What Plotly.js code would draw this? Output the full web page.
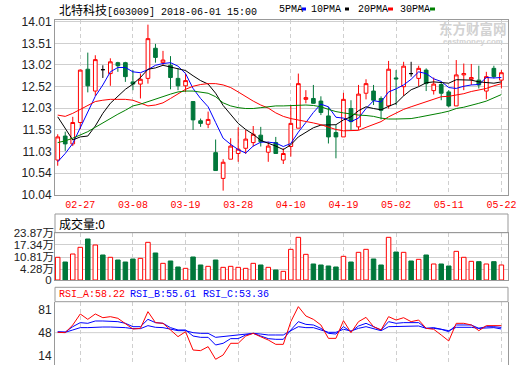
<!DOCTYPE html>
<html><head><meta charset="utf-8">
<script src="https://cdn.plot.ly/plotly-3.0.1.min.js"></script>
<style>html,body{margin:0;padding:0;background:#fff;overflow:hidden}#chart{width:520px;height:365px}</style>
</head><body><div id="chart"></div>
<script>
const dates = ['02-22','02-23','02-26','02-27','02-28',
 '03-01','03-02','03-05','03-06','03-07','03-08','03-09','03-12','03-13','03-14','03-15','03-16','03-19','03-20','03-21','03-22','03-23','03-26','03-27','03-28','03-29','03-30',
 '04-02','04-03','04-04','04-09','04-10','04-11','04-12','04-13','04-16','04-17','04-18','04-19','04-20','04-23','04-24','04-25','04-26','04-27',
 '05-02','05-03','05-04','05-07','05-08','05-09','05-10','05-11','05-14','05-15','05-16','05-17','05-18','05-21','05-22'];
const openP = [10.84,11.39,11.21,11.70,12.92,12.42,12.91,12.82,13.07,13.07,
 12.63,12.58,12.71,13.40,13.07,13.01,12.71,12.54,12.18,11.74,
 11.66,11.01,10.42,10.86,10.99,11.11,11.24,11.41,11.02,11.24,
 10.84,11.15,11.57,12.23,12.25,12.19,11.85,11.47,11.37,12.02,
 11.60,12.37,12.42,12.25,12.08,12.72,12.52,12.82,12.71,12.90,
 12.43,12.57,12.40,12.08,12.79,12.69,12.67,12.42,12.94,12.67];
const highP = [11.43,11.49,11.83,12.91,13.30,13.24,13.01,13.17,13.09,13.09,
 12.90,12.82,13.94,13.50,13.34,13.22,12.94,12.82,12.18,11.79,
 11.95,11.31,10.86,11.34,11.59,11.53,11.62,11.60,11.26,11.37,
 11.11,12.10,12.82,12.44,12.56,12.30,12.06,11.64,12.38,12.21,
 12.56,12.69,12.56,12.30,13.11,12.90,13.09,13.09,13.00,12.94,
 12.73,12.63,12.44,13.13,13.05,13.04,13.00,12.86,13.00,12.90];
const lowP = [10.71,11.05,11.16,11.55,12.39,12.31,12.72,12.54,12.86,12.63,
 12.44,12.25,12.59,13.07,13.01,12.46,12.44,12.40,11.53,11.60,
 11.57,10.60,10.14,10.86,10.80,10.98,11.15,11.15,10.80,10.99,
 10.75,10.92,11.57,12.14,12.13,11.87,11.22,10.88,11.37,11.53,
 11.53,12.23,12.10,11.77,12.02,12.10,12.31,12.75,12.53,12.42,
 12.34,12.21,12.05,12.08,12.44,12.56,12.48,12.23,12.71,12.48];
const closeP = [11.37,11.21,11.70,12.90,12.54,13.14,12.91,13.09,13.00,12.75,
 12.58,12.69,13.62,13.19,13.13,12.73,12.54,12.66,11.76,11.68,
 11.77,10.60,10.79,11.16,11.09,11.32,11.43,11.26,11.16,10.99,
 10.99,11.68,12.59,12.27,12.14,11.93,11.37,11.37,12.23,11.72,
 12.35,12.59,12.21,11.98,12.92,12.70,12.99,12.82,12.94,12.59,
 12.58,12.37,12.08,12.79,12.82,12.73,12.56,12.75,12.75,12.84];
const volume = [11.45,9.08,13.12,16.49,20.69,17.66,12.62,11.45,10.09,9.08,
 10.6,10.93,19.01,13.63,8.41,9.59,6.56,5.89,11.61,7.57,
 6.9,10.09,6.39,6.9,6.39,5.89,8.41,7.57,6.39,5.05,
 4.37,15.48,21.53,12.95,8.08,7.57,7.07,6.56,11.94,9.08,
 13.96,15.48,10.6,7.57,21.53,14.13,13.96,9.59,10.43,12.62,
 8.08,8.08,7.07,14.47,11.45,9.42,9.25,8.08,9.25,7.57];
const ma5 = [10.80,10.99,11.22,11.60,11.94,12.30,12.56,12.86,12.96,12.96,
 12.86,12.84,12.91,13.01,13.05,13.07,12.99,12.82,12.48,12.25,
 12.06,11.70,11.34,11.20,11.08,11.00,11.16,11.25,11.25,11.23,
 11.15,11.22,11.48,11.70,11.93,12.12,12.06,11.82,11.80,11.72,
 11.80,12.02,12.20,12.17,12.40,12.47,12.56,12.69,12.86,12.82,
 12.70,12.64,12.50,12.48,12.53,12.56,12.57,12.73,12.72,12.73];
const ma10 = [11.83,11.56,11.30,11.37,11.39,11.62,11.91,12.14,12.30,12.46,
 12.58,12.73,12.92,12.95,13.01,12.97,12.93,12.89,12.77,12.66,
 12.58,12.37,12.09,11.88,11.68,11.54,11.43,11.29,11.23,11.16,
 11.08,11.19,11.37,11.48,11.58,11.64,11.64,11.65,11.76,11.83,
 11.97,12.06,12.02,11.99,12.07,12.14,12.31,12.45,12.52,12.61,
 12.63,12.61,12.60,12.68,12.67,12.67,12.63,12.62,12.60,12.63];
const ma20 = [11.87,11.84,11.91,12.00,12.08,12.18,12.21,12.23,12.23,12.23,
 12.21,12.14,12.08,12.10,12.15,12.25,12.35,12.46,12.53,12.57,
 12.59,12.59,12.56,12.50,12.40,12.29,12.19,12.10,12.03,11.92,
 11.84,11.79,11.76,11.72,11.69,11.65,11.60,11.54,11.51,11.51,
 11.52,11.59,11.65,11.72,11.83,11.91,12.00,12.06,12.12,12.18,
 12.24,12.29,12.30,12.33,12.36,12.41,12.44,12.48,12.54,12.59];
const ma30 = [11.24,11.28,11.34,11.41,11.49,11.59,11.69,11.80,11.89,11.98,
 12.08,12.12,12.18,12.24,12.29,12.35,12.40,12.42,12.42,12.40,
 12.37,12.29,12.15,12.08,12.04,12.02,12.02,12.04,12.06,12.08,
 12.08,12.09,12.10,12.10,12.09,12.06,12.00,11.95,11.92,11.89,
 11.87,11.86,11.84,11.80,11.78,11.78,11.79,11.79,11.82,11.85,
 11.88,11.92,11.96,12.02,12.05,12.09,12.14,12.19,12.26,12.34];
const rsiA = [48.5,48.0,59.2,75.2,67.4,75.2,69.8,71.3,68.9,60.6,
 53.3,54.3,78.6,62.6,61.6,51.9,42.2,49.4,22.7,21.8,
 27.6,9.2,15.5,32.5,32.5,43.1,47.0,42.0,37.3,31.0,
 31.0,64.0,85.9,72.3,67.4,59.2,39.7,39.7,65.5,48.0,
 64.0,70.3,56.7,51.9,71.3,66.4,69.8,64.0,66.4,54.3,
 52.9,44.6,35.9,61.6,61.6,59.2,50.9,58.2,58.2,58.22];
const rsiB = [49.4,48.9,56.7,62.6,61.6,65.0,65.0,64.5,64.0,61.6,
 56.7,56.7,67.4,62.6,61.6,55.3,51.9,51.9,43.1,41.2,
 41.2,30.0,32.5,39.3,39.3,44.6,47.0,43.1,39.3,38.3,
 38.3,51.9,64.0,60.1,59.2,54.3,47.0,46.0,56.7,49.4,
 57.7,61.6,56.7,51.9,64.0,61.6,62.6,62.6,62.6,54.3,
 55.3,52.9,49.4,59.2,59.2,59.2,54.3,56.7,56.7,55.61];
const rsiC = [48.5,48.5,51.9,55.3,55.3,56.2,56.2,56.2,56.2,55.3,
 53.8,53.8,58.2,55.8,55.3,52.9,50.9,50.9,48.0,47.0,
 47.0,41.2,42.2,44.1,44.1,46.0,47.0,46.0,44.6,44.6,
 44.6,50.9,56.7,55.3,55.3,51.9,48.5,48.5,52.9,50.4,
 54.3,56.7,54.3,50.9,56.7,56.7,57.7,57.7,57.7,54.3,
 54.3,52.9,50.9,55.8,55.8,55.8,54.3,55.3,55.3,53.36];
const xTickDates = ['02-27','03-08','03-19','03-28','04-10','04-19','05-02','05-11','05-22'];
const priceTicks = [10.04,10.54,11.03,11.53,12.03,12.52,13.02,13.51,14.01];
const volTicks = [4.28,10.81,17.34,23.87];
const volTickText = ['4.28万','10.81万','17.34万','23.87万'];
const volZero = [0];
const rsiTicks = [14,48,81];
const maNames = ['5PMA','10PMA','20PMA','30PMA'];

const RED='#ff0000', GRN='#00773a', BLUE='#0000ff', GRID='#cfcfcf', BORDER='#999999';
const maColors = [BLUE,'#000000',RED,'#008000'];
const W=520,H=365,L=55,R=508,T=20,B=365;
const px2x = p => (p-L)/(R-L);
const py2y = p => (B-p)/(B-T);

const idx = dates.map((d,i)=>i);
const norm = idx.filter(i=>openP[i]!==closeP[i]);
const doji = idx.filter(i=>openP[i]===closeP[i]);
const pick = (a,ix)=>ix.map(i=>a[i]);

const traces = [];
traces.push({type:'candlestick', x:pick(dates,norm), open:pick(openP,norm), high:pick(highP,norm), low:pick(lowP,norm), close:pick(closeP,norm),
  increasing:{line:{color:RED,width:1},fillcolor:'#ffffff'}, decreasing:{line:{color:GRN,width:1},fillcolor:GRN},
  whiskerwidth:0, xaxis:'x', yaxis:'y', hoverinfo:'skip'});
traces.push({type:'candlestick', x:pick(dates,doji), open:pick(openP,doji), high:pick(highP,doji), low:pick(lowP,doji), close:pick(closeP,doji),
  increasing:{line:{color:'#000',width:1},fillcolor:'#000'}, decreasing:{line:{color:'#000',width:1},fillcolor:'#000'},
  whiskerwidth:0, xaxis:'x', yaxis:'y', hoverinfo:'skip'});
[ma5,ma10,ma20,ma30].forEach((m,k)=>traces.push({type:'scatter',mode:'lines',x:dates,y:m,line:{color:maColors[k],width:1},xaxis:'x',yaxis:'y',hoverinfo:'skip'}));
const up = idx.map(i=>closeP[i]>openP[i]);
traces.push({type:'bar', x:dates, y:volume, width:0.6, xaxis:'x2', yaxis:'y2',
  marker:{color:up.map(u=>u?'#ffffff':GRN), line:{color:up.map(u=>u?RED:GRN), width:1}}, hoverinfo:'skip'});
traces.push({type:'scatter', mode:'none', x:[], y:[], xaxis:'x2', yaxis:'y4', hoverinfo:'skip'});
traces.push({type:'scatter',mode:'lines',x:dates,y:rsiC,line:{color:BLUE,width:1},xaxis:'x3',yaxis:'y3',hoverinfo:'skip'});
traces.push({type:'scatter',mode:'lines',x:dates,y:rsiB,line:{color:BLUE,width:1},xaxis:'x3',yaxis:'y3',hoverinfo:'skip'});
traces.push({type:'scatter',mode:'lines',x:dates,y:rsiA,line:{color:RED,width:1},xaxis:'x3',yaxis:'y3',hoverinfo:'skip'});

const xRange = [-0.36, 59.88];
const tickFont = {family:'Liberation Sans, Noto Sans CJK SC', size:12, color:'#222'};
function xa(anchor, labels){
  return {type:'category', categoryorder:'array', categoryarray:dates, range:xRange, anchor:anchor, domain:[0,1],
    tickmode:'array', tickvals:xTickDates, ticktext:xTickDates, showticklabels:labels, ticks:'',
    tickfont:{family:'Liberation Mono', size:10, color:RED},
    showgrid:true, gridcolor:GRID, griddash:'4px,3px', gridwidth:1,
    showline:true, linecolor:BORDER, linewidth:1, mirror:true, zeroline:false, fixedrange:true};
}
const layout = {
  width:W, height:H, margin:{l:L, r:W-R, t:T, b:H-B, pad:0},
  paper_bgcolor:'#fff', plot_bgcolor:'#fff', showlegend:false, boxgap:0.3, bargap:0.3,
  xaxis: Object.assign(xa('y', true), {rangeslider:{visible:false}}),
  xaxis2: xa('y2', false),
  xaxis3: Object.assign(xa('y3', false), {showline:false}),
  yaxis: {domain:[py2y(195),1], range:[10.04,14.047], tickmode:'array', tickvals:priceTicks, ticktext:priceTicks.map(v=>v.toFixed(2)),
    tickfont:tickFont, ticks:'', showgrid:true, gridcolor:GRID, showline:true, linecolor:BORDER, mirror:true, zeroline:false, fixedrange:true},
  yaxis2: {domain:[py2y(280),py2y(232.7)], range:[0,23.87], tickmode:'array', tickvals:volZero, ticktext:volZero.map(String),
    tickfont:Object.assign({}, tickFont, {size:11.5}), ticks:'', showgrid:false, showline:true, linecolor:BORDER, mirror:true, zeroline:false, fixedrange:true},
  yaxis4: {overlaying:'y2', anchor:'x2', side:'left', range:[-1.45,23.87], tickmode:'array', tickvals:volTicks, ticktext:volTickText,
    tickfont:Object.assign({}, tickFont, {size:11.5}), ticks:'', showgrid:true, gridcolor:GRID, showline:false, zeroline:false, fixedrange:true},
  yaxis3: {domain:[0,py2y(301.7)], range:[0.89,93.09], tickmode:'array', tickvals:rsiTicks, ticktext:rsiTicks.map(String),
    tickfont:tickFont, ticks:'', showgrid:false, showline:true, linecolor:BORDER, mirror:true, zeroline:false, fixedrange:true},
  shapes: [
    {type:'rect', xref:'paper', yref:'paper', x0:0, x1:1, y0:py2y(232.7), y1:py2y(214), line:{color:BORDER,width:1}},
    {type:'rect', xref:'paper', yref:'paper', x0:0, x1:1, y0:py2y(301.7), y1:py2y(287.3), line:{color:BORDER,width:1}},
    {type:'line', xref:'paper', yref:'y3', x0:0, x1:1, y0:rsiTicks[1], y1:rsiTicks[1], layer:'below', line:{color:GRID,width:1}},
  ],
  annotations: []
};
// legend swatches
const swX = [[302,306],[345,349],[388,393],[430,435]];
const lgX = [277,309,356,398];
maNames.forEach((n,k)=>{
  layout.annotations.push({xref:'paper',yref:'paper',x:px2x(lgX[k]),y:py2y(9),xanchor:'left',yanchor:'middle',showarrow:false,
    text:n, font:{family:'Liberation Mono',size:10,color:'#000'}});
  layout.shapes.push({type:'rect',xref:'paper',yref:'paper',x0:px2x(swX[k][0]),x1:px2x(swX[k][1]),y0:py2y(10.5),y1:py2y(7.5),
    fillcolor:maColors[k],line:{width:0}});
});
layout.annotations.push(
  {xref:'paper',yref:'paper',x:px2x(57),y:py2y(9),xanchor:'left',yanchor:'middle',showarrow:false,
   text:'<span style="font-family:Noto Sans CJK SC;font-size:12px">北特科技</span>[603009] 2018-06-01 15:00',
   font:{family:'Liberation Mono',size:10,color:'#000'}},
  {xref:'paper',yref:'paper',x:px2x(473),y:py2y(28),xanchor:'center',yanchor:'middle',showarrow:false,
   text:'<b>东方财富网</b>', font:{family:'Noto Sans CJK SC',size:13.5,color:'#d2d2d2'}},
  {xref:'paper',yref:'paper',x:px2x(473),y:py2y(41.5),xanchor:'center',yanchor:'middle',showarrow:false,
   text:'<b>eastmoney.com</b>', font:{family:'Liberation Sans',size:8,color:'#d2d2d2'}},
  {xref:'paper',yref:'paper',x:px2x(57),y:py2y(223),xanchor:'left',yanchor:'middle',showarrow:false,
   text:'成交量:0', font:{family:'Noto Sans CJK SC',size:12,color:'#000'}},
  {xref:'paper',yref:'paper',x:px2x(57),y:py2y(294),xanchor:'left',yanchor:'middle',showarrow:false,
   text:'RSI_A:'+rsiA[rsiA.length-1].toFixed(2), font:{family:'Liberation Mono',size:10,color:RED}},
  {xref:'paper',yref:'paper',x:px2x(128),y:py2y(294),xanchor:'left',yanchor:'middle',showarrow:false,
   text:'RSI_B:'+rsiB[rsiB.length-1].toFixed(2), font:{family:'Liberation Mono',size:10,color:BLUE}},
  {xref:'paper',yref:'paper',x:px2x(201),y:py2y(294),xanchor:'left',yanchor:'middle',showarrow:false,
   text:'RSI_C:'+rsiC[rsiC.length-1].toFixed(2), font:{family:'Liberation Mono',size:10,color:BLUE}}
);
Plotly.newPlot('chart', traces, layout, {staticPlot:true, displayModeBar:false});
</script></body></html>
